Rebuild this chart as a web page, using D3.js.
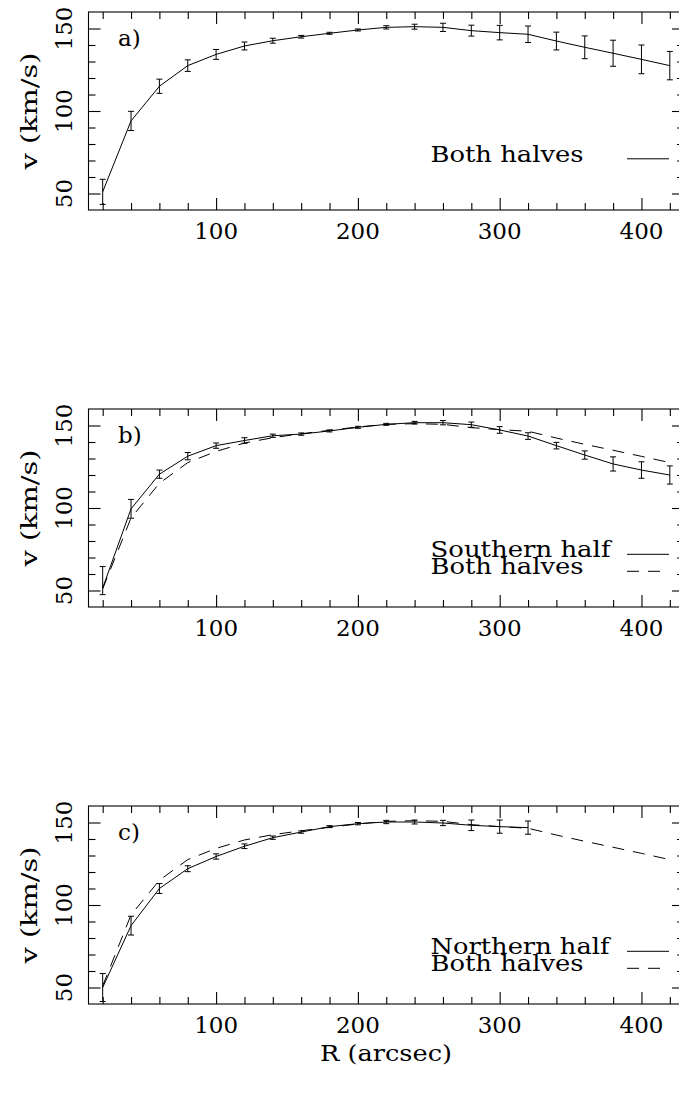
<!DOCTYPE html>
<html>
<head>
<meta charset="utf-8">
<script src="https://cdn.jsdelivr.net/npm/d3@7"></script>
<style>
  html, body { margin: 0; padding: 0; background: #fff; }
  svg { display: block; }
  text { font-family: "DejaVu Serif", "Liberation Serif", serif; fill: #000; }
</style>
</head>
<body>
<svg id="chart" width="679" height="1093"></svg>
<script>
// ---------------- data ----------------
const radii = [20,40,60,80,100,120,140,160,180,200,220,240,260,280,300,320,340,360,380,400,420];

const bothV   = [51, 94, 115, 127.5, 134.3, 139.4, 142.6, 145, 147.1, 149.1, 150.7, 151.1, 150.7, 148.7, 147.5, 146.5, 142.4, 138.6, 135, 131.3, 127.5];
const bothErr = [7.6, 5.8, 4.3, 3.5, 3.0, 2.4, 1.5, 0.8, 0.6, 0.6, 1.0, 1.5, 2.5, 3.3, 4.4, 5.0, 5.4, 6.9, 7.9, 8.7, 8.6];

const southV     = [51.5, 99.5, 120.5, 131.4, 137.8, 140.9, 143.8, 144.8, 146.7, 148.9, 150.7, 151.7, 151.7, 150.5, 147.3, 143.6, 137.8, 132.1, 126.7, 123, 120];
const southErrLo = [4, 5.7, 2.5, 2.2, 1.6, 1.7, 1.0, 0.7, 0.6, 0.6, 0.6, 0.8, 1.3, 1.6, 2.0, 2.0, 2.0, 2.5, 4.3, 5.0, 5.5];
const southErrHi = [13, 5.7, 2.5, 2.2, 1.6, 1.7, 1.0, 0.7, 0.6, 0.6, 0.6, 0.8, 1.3, 1.6, 2.0, 2.0, 2.0, 2.5, 4.3, 5.0, 5.5];

const northR   = [20,40,60,80,100,120,140,160,180,200,220,240,260,280,300,320];
const northV   = [50, 87.5, 110, 122, 129.4, 135.6, 140.8, 144.2, 147.5, 149.3, 150.3, 150.3, 149.7, 148.3, 147.5, 146.9];
const northErr = [8.5, 5.7, 3.0, 1.8, 1.6, 1.4, 1.0, 0.7, 0.6, 0.7, 1.0, 1.2, 1.6, 3.2, 4.0, 4.0];

const xMajorTicks = [100, 200, 300, 400];
const xMinorTicks = [20,40,60,80,120,140,160,180,220,240,260,280,320,340,360,380,420];
const yMajorTicks = [50, 100, 150];
const yMinorTicks = [60,70,80,90,110,120,130,140];
const panelLabels = ["a)", "b)", "c)"];
const legendA = ["Both halves"];
const legendB = ["Southern half", "Both halves"];
const legendC = ["Northern half", "Both halves"];
const yTitle = "v (km/s)";
const xTitle = "R (arcsec)";

// ---------------- layout ----------------
const svg = d3.select("#chart");
const left = 88.5, right = 684;
const panelTops = [12, 409, 806];
const panelH = 198;
const FS = 23;

const x = d3.scaleLinear().domain([10, 430]).range([left, right]);

const mk = (rs, vs, lo, hi) => rs.map((r, i) => ({ r, v: vs[i], lo: vs[i] - lo[i], hi: vs[i] + hi[i] }));
const both  = mk(radii, bothV, bothErr, bothErr);
const south = mk(radii, southV, southErrLo, southErrHi);
const north = mk(northR, northV, northErr, northErr);

const panels = [
  { series: [{ d: both, dash: null, err: true }], legend: legendA, legendDash: [null], legendBase: [149.5] },
  { series: [{ d: both, dash: "12,9", err: false }, { d: south, dash: null, err: true }], legend: legendB, legendDash: [null, "12,9"], legendBase: [148, 165] },
  { series: [{ d: both, dash: "12,9", err: false }, { d: north, dash: null, err: true }], legend: legendC, legendDash: [null, "12,9"], legendBase: [148, 165] }
];
const legendWidths = { "Both halves": 153, "Southern half": 180, "Northern half": 179 };

panels.forEach((p, pi) => {
  const top = panelTops[pi], bottom = top + panelH;
  const y = d3.scaleLinear().domain([40, 160]).range([bottom, top]);
  const g = svg.append("g");

  // frame
  g.append("rect").attr("x", left).attr("y", top).attr("width", right - left).attr("height", panelH)
    .attr("fill", "none").attr("stroke", "#000").attr("stroke-width", 1.1);

  const styleAxis = sel => { sel.select(".domain").remove(); sel.selectAll("line").attr("stroke", "#000").attr("stroke-width", 1.1); sel.selectAll("text").remove(); };

  // x axes (bottom + top), ticks inward
  [[xMajorTicks, 12], [xMinorTicks, 7]].forEach(([tv, len]) => {
    g.append("g").attr("transform", `translate(0,${bottom})`)
      .call(d3.axisBottom(x).tickValues(tv).tickSize(-len).tickFormat("")).call(styleAxis);
    g.append("g").attr("transform", `translate(0,${top})`)
      .call(d3.axisTop(x).tickValues(tv).tickSize(-len).tickFormat("")).call(styleAxis);
  });
  // y axes (left + right), ticks inward
  [[yMajorTicks, 12], [yMinorTicks, 7]].forEach(([tv, len]) => {
    g.append("g").attr("transform", `translate(${left},0)`)
      .call(d3.axisLeft(y).tickValues(tv).tickSize(-len).tickFormat("")).call(styleAxis);
    g.append("g").attr("transform", `translate(${right},0)`)
      .call(d3.axisRight(y).tickValues(tv).tickSize(-len).tickFormat("")).call(styleAxis);
  });

  // x tick labels
  g.selectAll(".xl").data(xMajorTicks).join("text")
    .attr("x", d => x(d)).attr("y", bottom + 29).attr("text-anchor", "middle")
    .attr("font-size", FS).text(d => d);
  // y tick labels (rotated)
  g.selectAll(".yl").data(yMajorTicks).join("text")
    .attr("transform", d => `translate(72,${y(d)}) rotate(-90)`).attr("text-anchor", "middle")
    .attr("font-size", FS).text(d => d);
  // y title
  g.append("text").attr("transform", `translate(37,${(top + bottom) / 2}) rotate(-90)`)
    .attr("text-anchor", "middle").attr("font-size", FS)
    .attr("textLength", 117).attr("lengthAdjust", "spacingAndGlyphs").text(yTitle);
  // panel label
  g.append("text").attr("x", 118).attr("y", top + 33.5).attr("font-size", FS).text(panelLabels[pi]);

  // series
  const line = d3.line().x(d => x(d.r)).y(d => y(d.v));
  p.series.forEach(s => {
    g.append("path").datum(s.d).attr("d", line).attr("fill", "none").attr("stroke", "#000")
      .attr("stroke-width", 1).attr("stroke-dasharray", s.dash);
    if (s.err) {
      const eb = g.append("g").attr("stroke", "#000").attr("stroke-width", 1);
      eb.selectAll(".v").data(s.d).join("line")
        .attr("x1", d => x(d.r)).attr("x2", d => x(d.r)).attr("y1", d => y(d.lo)).attr("y2", d => y(d.hi));
      eb.selectAll(".c1").data(s.d).join("line")
        .attr("x1", d => x(d.r) - 3).attr("x2", d => x(d.r) + 3).attr("y1", d => y(d.lo)).attr("y2", d => y(d.lo));
      eb.selectAll(".c2").data(s.d).join("line")
        .attr("x1", d => x(d.r) - 3).attr("x2", d => x(d.r) + 3).attr("y1", d => y(d.hi)).attr("y2", d => y(d.hi));
    }
  });

  // legend
  p.legend.forEach((lab, li) => {
    const base = top + p.legendBase[li];
    g.append("text").attr("x", 430.5).attr("y", base).attr("font-size", FS)
      .attr("textLength", legendWidths[lab]).attr("lengthAdjust", "spacingAndGlyphs").text(lab);
    g.append("line").attr("x1", 627).attr("x2", 669).attr("y1", base - 2.7).attr("y2", base - 2.7)
      .attr("stroke", "#000").attr("stroke-width", 1).attr("stroke-dasharray", p.legendDash[li]);
  });
});

// x title
svg.append("text").attr("x", 386).attr("y", 1061).attr("text-anchor", "middle").attr("font-size", FS)
  .attr("textLength", 132).attr("lengthAdjust", "spacingAndGlyphs").text(xTitle);
</script>
</body>
</html>
